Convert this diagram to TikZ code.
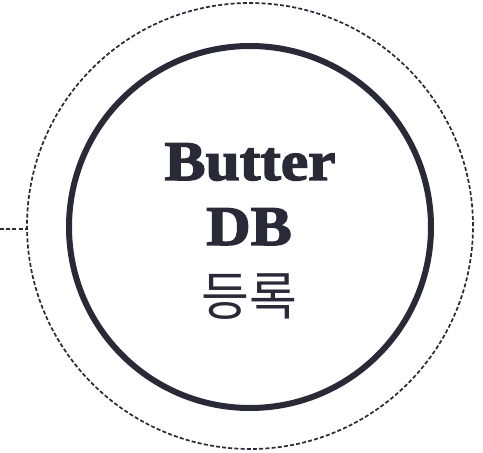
\documentclass[tikz,border=0pt]{standalone}
\usepackage{fontspec}
\newfontfamily\krfont{Noto Sans CJK KR}
\newfontfamily\fatfont{Liberation Serif}[UprightFont={* Bold}, FakeBold=2.5, FakeStretch=1.1]
\definecolor{ink}{HTML}{2A2937}

\tikzset{
  ring/.style={circle, draw=ink, inner sep=0pt},
  dashring/.style={dash pattern=on 4pt off 2.2pt, line width=1.7pt},
  title/.style={text=ink, font=\fatfont\fontsize{56}{60}\selectfont, inner sep=0pt, anchor=base},
}

\begin{document}
\begin{tikzpicture}[x=1pt, y=1pt]
  \useasboundingbox (0,0) rectangle (483,453);
  \node (outer) [ring, dashring, minimum size=446pt] at (250,227) {};
  \node (inner) [ring, minimum size=362pt, line width=6pt] at (250,226) {};

  \node (butter) [title] at (250,273) {Butter};
  \node (db) [title] at (249,208) {DB};
  \node (reg) [title, font=\krfont\fontsize{52}{60}\selectfont] at (249.5,137) {등록};

  % lead-in from the left edge
  \coordinate (lft) at (0,224);
  \draw [ink, dashring] (lft) -- (lft -| outer.west);
\end{tikzpicture}
\end{document}
